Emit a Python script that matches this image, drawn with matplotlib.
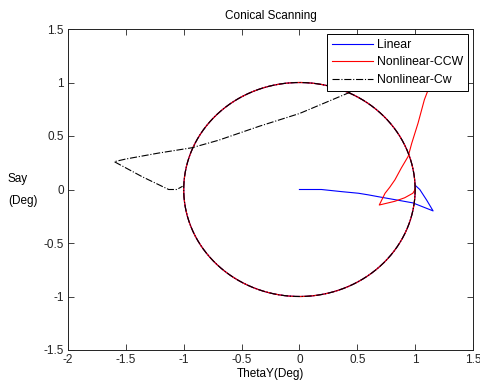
import numpy as np
import matplotlib
matplotlib.use("Agg")
import matplotlib.pyplot as plt
from matplotlib.ticker import FuncFormatter

plt.rcParams['font.family'] = ['Liberation Sans', 'DejaVu Sans']

# Steady-state conical scan radius (deg)
scan_radius = 1.0

# Transient paths before locking onto the scan circle
linear_x = [0.0, 0.19, 0.365, 0.51, 0.595, 0.68, 0.825, 0.98, 1.155, 1.10, 1.04, 1.0]
linear_y = [0.0, 0.0, -0.02, -0.035, -0.05, -0.067, -0.095, -0.125, -0.2, -0.1, 0.0, 0.04]

ccw_x = [1.2, 1.112, 1.08, 1.025, 0.97, 0.94, 0.88, 0.825, 0.78, 0.74, 0.69, 0.825, 0.91, 0.98, 1.0]
ccw_y = [1.3, 0.93, 0.84, 0.62, 0.43, 0.31, 0.20, 0.09, 0.02, -0.035, -0.145, -0.11, -0.077, -0.035, 0.0]

cw_x = [0.44, 0.0, -0.35, -0.70, -0.93, -1.22, -1.5, -1.60, -1.36, -1.13, -1.06, -1.01]
cw_y = [0.91, 0.71, 0.59, 0.46, 0.39, 0.34, 0.285, 0.26, 0.12, 0.0, 0.0, 0.03]

x_ticks = [-2, -1.5, -1, -0.5, 0, 0.5, 1, 1.5]
y_ticks = [-1.5, -1, -0.5, 0, 0.5, 1, 1.5]

theta = np.linspace(0, 2 * np.pi, 400)
cx = scan_radius * np.cos(theta)
cy = scan_radius * np.sin(theta)

fig = plt.figure(figsize=(4.8, 3.85), dpi=100)
ax = fig.add_axes([68 / 480, 1 - 350 / 385, 405 / 480, 321 / 385])

ax.plot(linear_x, linear_y, color='#0000ff', lw=0.8, label='Linear')
ax.plot(cx, cy, color='#0000ff', lw=0.8)
ax.plot(ccw_x, ccw_y, color='#ff0000', lw=0.8, label='Nonlinear-CCW')
ax.plot(cx, cy, color='#ff0000', lw=0.9)
ax.plot(cw_x, cw_y, color='black', lw=0.8, ls='-.', label='Nonlinear-Cw')
ax.plot(cx, cy, color='black', lw=0.8, ls='-.')

ax.set_xlim(-2, 1.5)
ax.set_ylim(-1.5, 1.5)
ax.set_xticks(x_ticks)
ax.set_yticks(y_ticks)
fmt = FuncFormatter(lambda v, p: '%g' % v)
ax.xaxis.set_major_formatter(fmt)
ax.yaxis.set_major_formatter(fmt)
ax.tick_params(direction='in', top=True, right=True, length=4, width=0.6,
               labelsize=8.5, pad=3, colors='#222222')
for s in ax.spines.values():
    s.set_linewidth(0.7)
    s.set_color('#222222')

ax.set_title('Conical Scanning', fontsize=8.5, pad=7)
ax.set_xlabel('ThetaY(Deg)', fontsize=8.5, labelpad=1)
fig.text(8 / 480, 1 - 190 / 385, 'Say\n\n(Deg)', fontsize=8.5, ha='left', va='center',
         linespacing=0.9)

leg = ax.legend(loc='upper right', fontsize=8.8, frameon=True, fancybox=False,
                edgecolor='black', borderaxespad=0.4, handlelength=3.4,
                handletextpad=0.3, labelspacing=0.45, borderpad=0.4,
                framealpha=1.0)
leg.get_frame().set_linewidth(0.7)

fig.savefig('out.png', dpi=100)
